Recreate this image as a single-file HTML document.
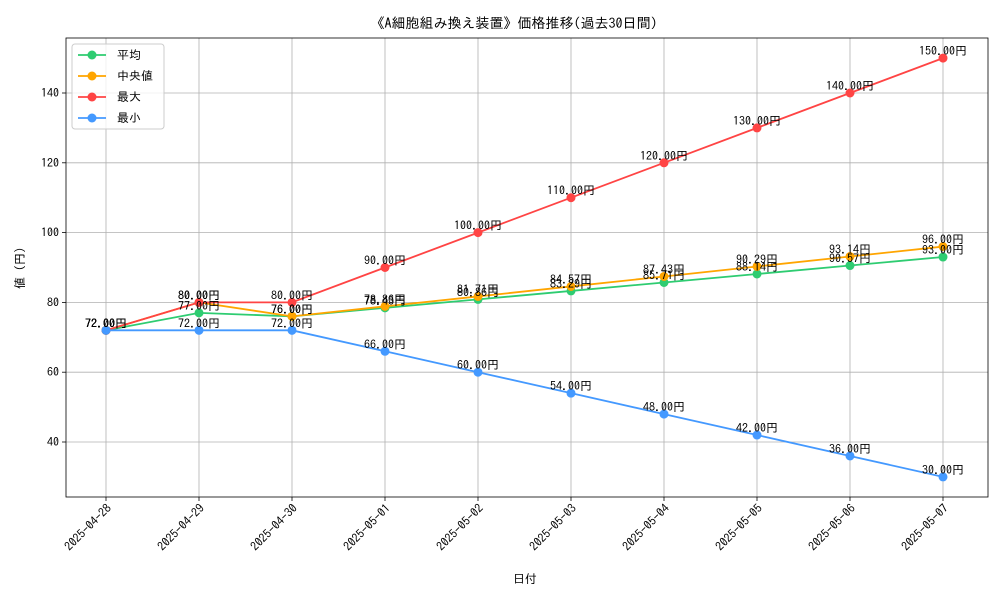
<!DOCTYPE html>
<html><head><meta charset="utf-8">
<style>
body{margin:0;background:#fff;}
svg text{font-family:"IPAGothic","Noto Sans CJK JP",sans-serif;}
</style></head>
<body>
<svg id="chart" width="1000" height="600" xmlns="http://www.w3.org/2000/svg"></svg>
<script>
const categories=["2025-04-28","2025-04-29","2025-04-30","2025-05-01","2025-05-02","2025-05-03","2025-05-04","2025-05-05","2025-05-06","2025-05-07"];
const avgValues=[72,77,76,78.43,80.86,83.29,85.71,88.14,90.57,93];
const medianValues=[72,80,76,78.86,81.71,84.57,87.43,90.29,93.14,96];
const maxValues=[72,80,80,90,100,110,120,130,140,150];
const minValues=[72,72,72,66,60,54,48,42,36,30];
const yTicks=[40,60,80,100,120,140];
const seriesNames=["平均","中央値","最大","最小"];
const seriesColors=["#2ecc71","#ffa500","#ff4444","#4499ff"];
const seriesData=[avgValues,medianValues,maxValues,minValues];

const svg=document.getElementById('chart');
const NS="http://www.w3.org/2000/svg";
const L=66,R=988,T=38,B=497;
function x(i){return 106+i*(943-106)/(categories.length-1);}
function y(v){return 442-(v-40)*3.49;}
function mk(tag,attrs,parent){const e=document.createElementNS(NS,tag);for(const k in attrs)e.setAttribute(k,attrs[k]);(parent||svg).appendChild(e);return e;}

const grid=mk('g',{});


categories.forEach((c,i)=>{
  mk('line',{x1:x(i),x2:x(i),y1:T,y2:B,stroke:'#b0b0b0','stroke-width':0.8},grid);
  mk('line',{x1:x(i),x2:x(i),y1:B,y2:B+4,stroke:'#000','stroke-width':0.8},grid);
  const t=mk('text',{x:0,y:0,'font-size':12,'text-anchor':'end',transform:`translate(${x(i)+6},${B+12}) rotate(-45)`},grid);
  
  
  t.textContent=c;
});
yTicks.forEach(v=>{
  mk('line',{x1:L,x2:R,y1:y(v),y2:y(v),stroke:'#b0b0b0','stroke-width':0.8},grid);
  mk('line',{x1:L-4,x2:L,y1:y(v),y2:y(v),stroke:'#000','stroke-width':0.8},grid);
  const t=mk('text',{x:L-7,y:y(v)+4,'font-size':12,'text-anchor':'end'},grid);
  
  
  t.textContent=v;
});
const frame=mk('rect',{x:L,y:T,width:R-L,height:B-T,fill:'none',stroke:'#000','stroke-width':0.8});



seriesData.forEach((d,s)=>{
  const g=mk('g',{});
  
  
  mk('polyline',{points:d.map((v,i)=>x(i)+','+y(v)).join(' '),fill:'none',stroke:seriesColors[s],'stroke-width':1.8},g);
  d.forEach((v,i)=>{
    const c=mk('circle',{cx:x(i),cy:y(v),r:4.5,fill:seriesColors[s]},g);
    
    
  });
});
seriesData.forEach((d,s)=>{
  d.forEach((v,i)=>{
    const t=mk('text',{x:x(i),y:y(v)-3,'font-size':12,'text-anchor':'middle',fill:'#000'});
    
    
    t.textContent=v.toFixed(2)+'円';
  });
});

const title=mk('text',{x:514,y:28,'font-size':14,'text-anchor':'middle'});


title.textContent='《A細胞組み換え装置》価格推移(過去30日間)';
const xt=mk('text',{x:525,y:583,'font-size':12,'text-anchor':'middle'});


xt.textContent='日付';
const yt=mk('text',{x:0,y:0,'font-size':12,'text-anchor':'middle',transform:'translate(24,268) rotate(-90)'});


yt.textContent='値 (円)';

const lg=mk('g',{});


mk('rect',{x:72,y:44,width:92,height:85,rx:3,fill:'#fff',stroke:'#ccc','fill-opacity':0.8},lg);
seriesNames.forEach((n,s)=>{
  const yy=55+s*21;
  const e=mk('g',{},lg);
  
  
  mk('line',{x1:78,x2:106,y1:yy,y2:yy,stroke:seriesColors[s],'stroke-width':1.8},e);
  mk('circle',{cx:92,cy:yy,r:4.5,fill:seriesColors[s]},e);
  const t=mk('text',{x:117,y:yy+4,'font-size':12},e);
  t.textContent=n;
});
</script>
</body></html>
